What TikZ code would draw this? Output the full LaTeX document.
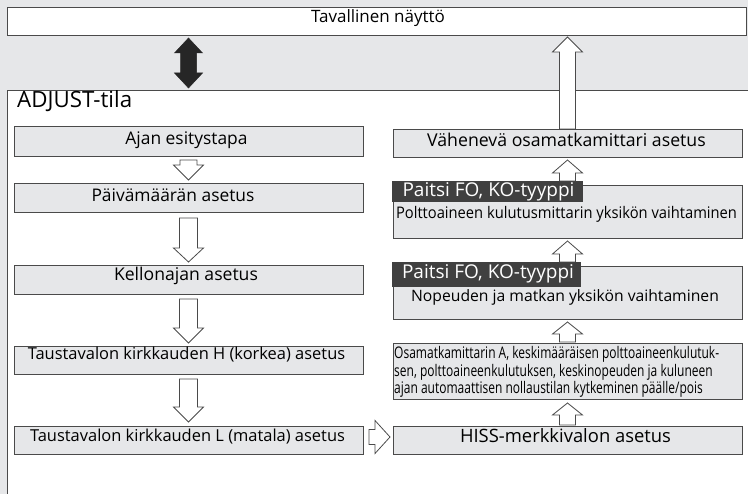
\documentclass[tikz,border=0pt]{standalone}
\usepackage{fontspec}
\setmainfont{Open Sans}
\usetikzlibrary{calc}
\definecolor{bgc}{HTML}{E6E7E9}
\definecolor{boxfill}{HTML}{E6E7E9}
\definecolor{edge}{HTML}{4A4A4A}
\definecolor{tagfill}{HTML}{404040}
\newcommand\fs[1]{\fontsize{#1pt}{#1pt}\selectfont}
\newcommand\sqz[2]{\scalebox{#1}[1]{#2}}
% down arrow: #1 upper node, #2 lower node, #3 tail gap, #4 tip gap, #5 head length, #6 shaft half width
\newcommand\arrdown[6]{\draw[fatarr] let \p1=(#1.south), \p2=(#2.north) in
  (\x1-#6pt,\y1-#3pt) -- (\x1-#6pt,\y2+#4pt+#5pt) -- (\x1-15pt,\y2+#4pt+#5pt) -- (\x1,\y2+#4pt)
  -- (\x1+15pt,\y2+#4pt+#5pt) -- (\x1+#6pt,\y2+#4pt+#5pt) -- (\x1+#6pt,\y1-#3pt) -- cycle;}
% up arrow: #1 tail node, #2 tip node, #3 x reference node, #4 tail gap, #5 tip gap, #6 head length
\newcommand\arrup[6]{\draw[fatarr] let \p1=(#1.north), \p2=(#2.south), \p3=(#3.center) in
  (\x3-8pt,\y1+#4pt) -- (\x3-8pt,\y2-#5pt-#6pt) -- (\x3-15pt,\y2-#5pt-#6pt) -- (\x3,\y2-#5pt)
  -- (\x3+15pt,\y2-#5pt-#6pt) -- (\x3+8pt,\y2-#5pt-#6pt) -- (\x3+8pt,\y1+#4pt) -- cycle;}
\begin{document}
\begin{tikzpicture}[x=1pt,y=-1pt,
  boxnode/.style={draw=edge, line width=0.8pt, fill=boxfill, inner sep=0pt, outer sep=0pt},
  whitebox/.style={boxnode, fill=white},
  tagnode/.style={fill=tagfill, inner sep=0pt, outer sep=0pt},
  txt/.style={anchor=base, inner sep=0pt, text=black},
  fatarr/.style={draw=edge, fill=white, line width=0.8pt, line join=miter},
  blackarr/.style={draw=black!85, fill=black!85, line width=0.5pt, line join=miter}]
\useasboundingbox (0,0) rectangle (748,494);
\fill[bgc] (0,0) rectangle (748,494);
\clip (0,0) rectangle (748,494);

% frames
\node[whitebox, minimum width=739pt, minimum height=28pt] (top) at (376.5,21) {};
\node[whitebox, minimum width=753pt, minimum height=430pt] (adj) at (383.5,305) {};
\node[txt] (ttop) at (378,23) {\fs{17}Tavallinen näyttö};
\node[txt, anchor=base west] (tadj) at (17,108) {\fs{22.3}ADJUST-tila};

% left column
\node[boxnode, minimum width=349pt, minimum height=30pt] (ajan) at (188.5,141) {};
\node[boxnode, minimum width=349pt, minimum height=29pt] (paiva) at (188.5,197.5) {};
\node[boxnode, minimum width=349pt, minimum height=29pt] (kello) at (188.5,279.5) {};
\node[boxnode, minimum width=349pt, minimum height=28pt] (taustH) at (188.5,360) {};
\node[boxnode, minimum width=349pt, minimum height=28pt] (taustL) at (188.5,440) {};
\node[txt] (tajan) at (186.5,145) {\fs{17.4}Ajan esitystapa};
\node[txt] (tpaiva) at (173,202) {\fs{17.4}Päivämäärän asetus};
\node[txt] (tkello) at (186,280.5) {\fs{17.6}Kellonajan asetus};
\node[txt] (ttaustH) at (186.5,360) {\fs{16.45}Taustavalon kirkkauden H (korkea) asetus};
\node[txt] (ttaustL) at (187.5,442) {\fs{16.45}Taustavalon kirkkauden L (matala) asetus};

% right column
\node[boxnode, minimum width=349pt, minimum height=28pt] (vahen) at (567.5,143) {};
\node[boxnode, minimum width=349pt, minimum height=53pt] (poltto) at (567.5,211.5) {};
\node[boxnode, minimum width=349pt, minimum height=53pt] (nopeus) at (567.5,292.5) {};
\node[boxnode, minimum width=349pt, minimum height=56pt] (osam) at (567.5,371) {};
\node[boxnode, minimum width=349pt, minimum height=28pt] (hiss) at (567.5,440) {};
\node[tagnode, minimum width=191pt, minimum height=21pt] (tag1) at (487.5,191.5) {};
\node[tagnode, minimum width=189pt, minimum height=25pt] (tag2) at (486.5,274.5) {};
\node[txt] (tvahen) at (566.5,147) {\fs{17.7}Vähenevä osamatkamittari asetus};
\node[txt] (tpoltto) at (566.5,219) {\fs{16}\sqz{0.92}{Polttoaineen kulutusmittarin yksikön vaihtaminen}};
\node[txt] (tnopeus) at (565,302) {\fs{15.7}Nopeuden ja matkan yksikön vaihtaminen};
\node[txt] (thiss) at (565.5,443) {\fs{18.4}HISS-merkkivalon asetus};
\node[txt, text=white] (ttag1) at (488.5,197) {\fs{19}Paitsi FO, KO-tyyppi};
\node[txt, text=white] (ttag2) at (488,279) {\fs{19}Paitsi FO, KO-tyyppi};
\node[txt, anchor=base west] (tosam1) at (394,359) {\fs{16}\sqz{0.75}{Osamatkamittarin A, keskimääräisen polttoaineenkulutuk-}};
\node[txt, anchor=base west] (tosam2) at (394,377) {\fs{16}\sqz{0.75}{sen, polttoaineenkulutuksen, keskinopeuden ja kuluneen}};
\node[txt, anchor=base west] (tosam3) at (394,394) {\fs{16}\sqz{0.75}{ajan automaattisen nollaustilan kytkeminen päälle/pois}};

% black double arrow
\draw[blackarr] let \p1=(top.south), \p2=(adj.north), \p3=(ajan.center) in
  (\x3,\y1-3pt) -- (\x3+14pt,\y1-18pt) -- (\x3+8pt,\y1-18pt) -- (\x3+8pt,\y2+17pt)
  -- (\x3+14pt,\y2+17pt) -- (\x3,\y2+2pt) -- (\x3-14pt,\y2+17pt) -- (\x3-8pt,\y2+17pt)
  -- (\x3-8pt,\y1-18pt) -- (\x3-14pt,\y1-18pt) -- cycle;

% left arrows
\arrdown{ajan}{paiva}{4}{3}{15}{8.5}
\arrdown{paiva}{kello}{6}{3}{14}{9}
\arrdown{kello}{taustH}{5}{3}{15}{9}
\arrdown{taustH}{taustL}{5}{4}{15}{9}

% right arrows
\arrup{vahen}{top}{vahen}{0}{2}{15}
\arrup{tag1}{vahen}{vahen}{0}{3}{13}
\arrup{tag2}{poltto}{vahen}{0}{3}{13}
\arrup{osam}{nopeus}{vahen}{1}{3}{12}
\arrup{hiss}{osam}{vahen}{1}{4}{12}

% horizontal arrow
\draw[fatarr] let \p1=(taustL.east), \p2=(hiss.west) in
  (\x1+6pt,\y1+10.5pt) -- (\x2-18pt,\y1+10.5pt) -- (\x2-18pt,\y1+19.5pt) -- (\x2-3pt,\y1+3pt)
  -- (\x2-18pt,\y1-13.5pt) -- (\x2-18pt,\y1-4.5pt) -- (\x1+6pt,\y1-4.5pt) -- cycle;
\end{tikzpicture}
\end{document}
